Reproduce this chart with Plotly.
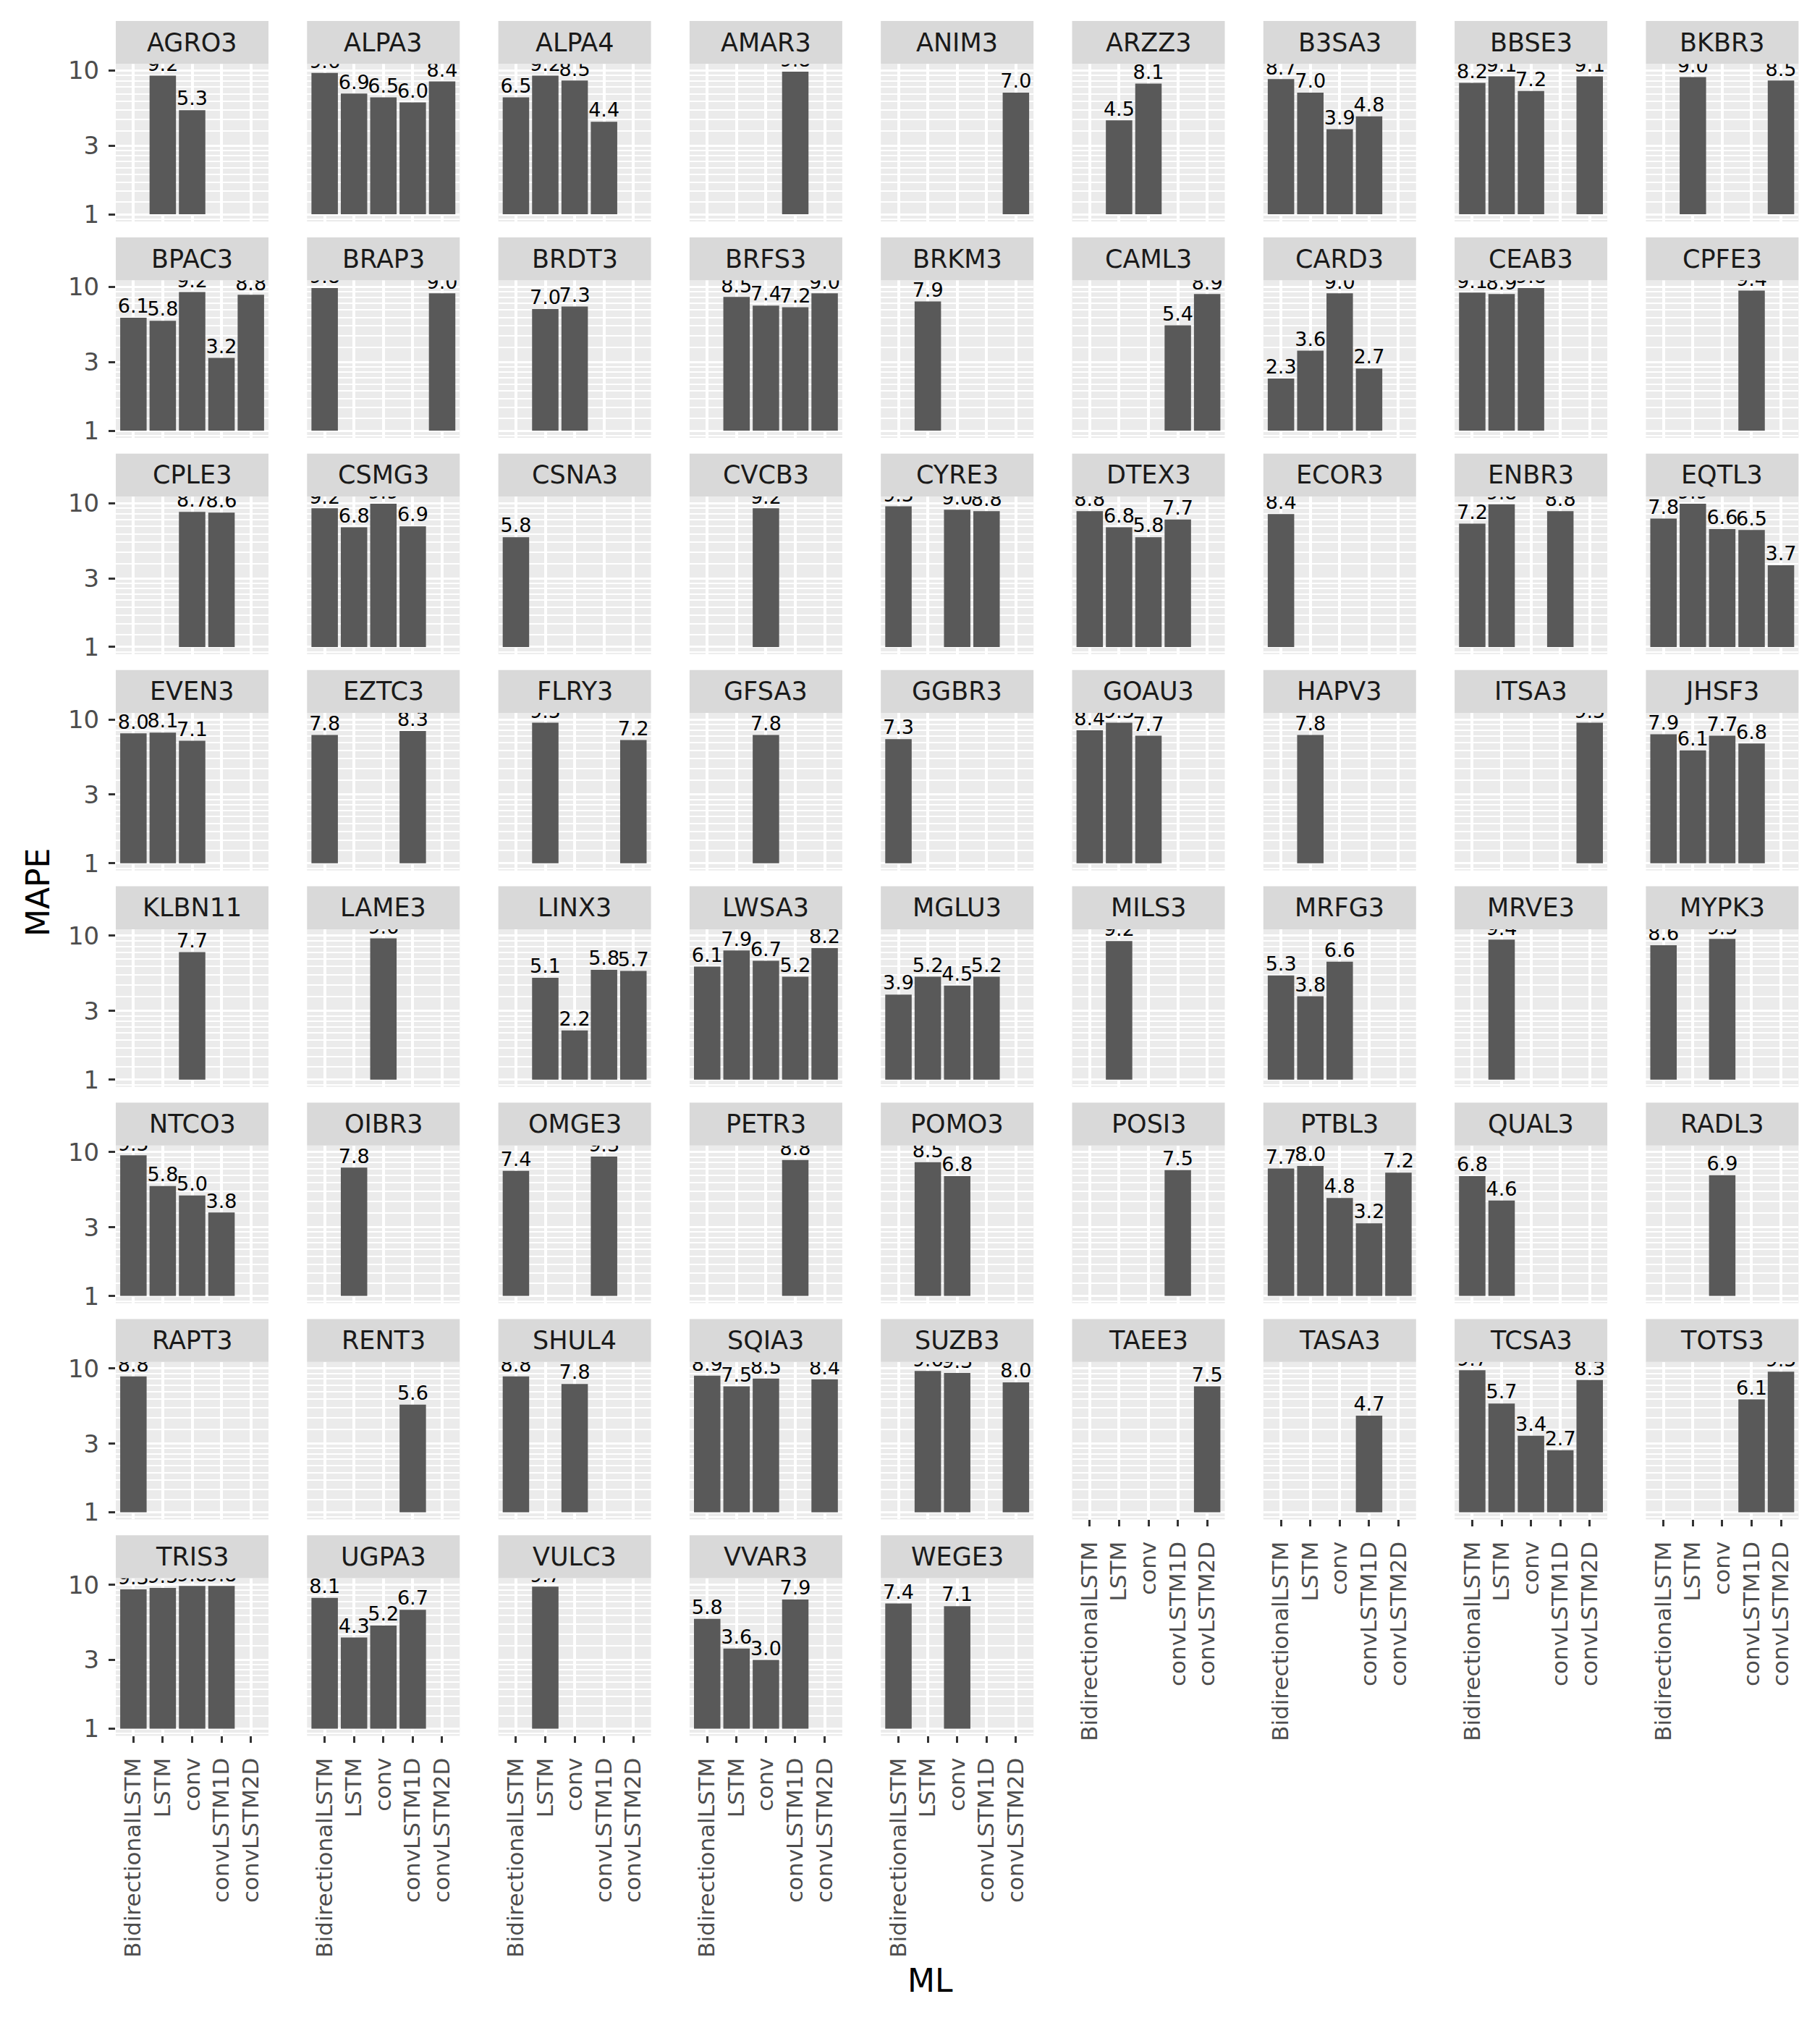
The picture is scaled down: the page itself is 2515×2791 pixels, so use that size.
import math
import plotly.graph_objects as go

# ---------------- data ----------------
models = ["BidirectionalLSTM", "LSTM", "conv", "convLSTM1D", "convLSTM2D"]

tickers = [
    "AGRO3", "ALPA3", "ALPA4", "AMAR3", "ANIM3", "ARZZ3", "B3SA3", "BBSE3", "BKBR3",
    "BPAC3", "BRAP3", "BRDT3", "BRFS3", "BRKM3", "CAML3", "CARD3", "CEAB3", "CPFE3",
    "CPLE3", "CSMG3", "CSNA3", "CVCB3", "CYRE3", "DTEX3", "ECOR3", "ENBR3", "EQTL3",
    "EVEN3", "EZTC3", "FLRY3", "GFSA3", "GGBR3", "GOAU3", "HAPV3", "ITSA3", "JHSF3",
    "KLBN11", "LAME3", "LINX3", "LWSA3", "MGLU3", "MILS3", "MRFG3", "MRVE3", "MYPK3",
    "NTCO3", "OIBR3", "OMGE3", "PETR3", "POMO3", "POSI3", "PTBL3", "QUAL3", "RADL3",
    "RAPT3", "RENT3", "SHUL4", "SQIA3", "SUZB3", "TAEE3", "TASA3", "TCSA3", "TOTS3",
    "TRIS3", "UGPA3", "VULC3", "VVAR3", "WEGE3",
]

N = None
bidirectional_lstm = [
    N, 9.6, 6.5, N, N, N, 8.7, 8.2, N,
    6.1, 9.8, N, N, N, N, 2.3, 9.1, N,
    N, 9.2, 5.8, N, 9.5, 8.8, 8.4, 7.2, 7.8,
    8.0, 7.8, N, N, 7.3, 8.4, N, N, 7.9,
    N, N, N, 6.1, 3.9, N, 5.3, N, 8.6,
    9.5, N, 7.4, N, N, N, 7.7, 6.8, N,
    8.8, N, 8.8, 8.9, N, N, N, 9.7, N,
    9.3, 8.1, N, 5.8, 7.4,
]
lstm = [
    9.2, 6.9, 9.2, N, N, 4.5, 7.0, 9.1, 9.0,
    5.8, N, 7.0, 8.5, 7.9, N, 3.6, 8.9, N,
    N, 6.8, N, N, N, 6.8, N, 9.8, 9.9,
    8.1, N, 9.5, N, N, 9.5, 7.8, N, 6.1,
    N, N, 5.1, 7.9, 5.2, 9.2, 3.8, 9.4, N,
    5.8, 7.8, N, N, 8.5, N, 8.0, 4.6, N,
    N, N, N, 7.5, 9.6, N, N, 5.7, N,
    9.5, 4.3, 9.7, 3.6, N,
]
conv = [
    5.3, 6.5, 8.5, N, N, 8.1, 3.9, 7.2, N,
    9.2, N, 7.3, 7.4, N, N, 9.0, 9.8, N,
    8.7, 9.9, N, 9.2, 9.0, 5.8, N, N, 6.6,
    7.1, N, N, 7.8, N, 7.7, N, N, 7.7,
    7.7, 9.6, 2.2, 6.7, 4.5, N, 6.6, N, 9.5,
    5.0, N, N, N, 6.8, N, 4.8, N, 6.9,
    N, N, 7.8, 8.5, 9.3, N, N, 3.4, N,
    9.8, 5.2, N, 3.0, 7.1,
]
conv_lstm1d = [
    N, 6.0, 4.4, 9.8, N, N, 4.8, N, N,
    3.2, N, N, 7.2, N, 5.4, 2.7, N, 9.4,
    8.6, 6.9, N, N, 8.8, 7.7, N, 8.8, 6.5,
    N, 8.3, N, N, N, N, N, N, 6.8,
    N, N, 5.8, 5.2, 5.2, N, N, N, N,
    3.8, N, 9.3, 8.8, N, 7.5, 3.2, N, N,
    N, 5.6, N, N, N, N, 4.7, 2.7, 6.1,
    9.8, 6.7, N, 7.9, N,
]
conv_lstm2d = [
    N, 8.4, N, N, 7.0, N, N, 9.1, 8.5,
    8.8, 9.0, N, 9.0, N, 8.9, N, N, N,
    N, N, N, N, N, N, N, N, 3.7,
    N, N, 7.2, N, N, N, N, 9.5, N,
    N, N, 5.7, 8.2, N, N, N, N, N,
    N, N, N, N, N, N, 7.2, N, N,
    N, N, N, 8.4, 8.0, 7.5, N, 8.3, 9.5,
    N, N, N, N, N,
]
series = [bidirectional_lstm, lstm, conv, conv_lstm1d, conv_lstm2d]

y_tick_vals = [1, 3, 10]
y_tick_text = ["1", "3", "10"]

# ---------------- layout geometry ----------------
W, H = 2515, 2791
NCOL = 9
PX0, PITCH_X, PW = 160.0, 264.3, 211.0
PT0, PITCH_Y, PH = 88.3, 298.9, 217.7
STRIP_H = 59.3
FONT = "DejaVu Sans"

all_vals = [v for s in series for v in s if v is not None]
ymax = math.log10(max(all_vals))
pad = 0.05 * ymax
yrange = [-pad, ymax + pad]

# minor grid: 8 evenly spaced lines between consecutive log breaks
ext = [0.3] + y_tick_vals + [30]
minor_vals = []
for a, b in zip(ext[:-1], ext[1:]):
    step = (b - a) / 9
    minor_vals += [a + k * step for k in range(1, 9)]

fig = go.Figure()
layout = {}
shapes = []
annotations = []
n_t = len(tickers)

for i, tk in enumerate(tickers):
    r, c = divmod(i, NCOL)
    n = i + 1
    sfx = "" if n == 1 else str(n)
    xa, ya = "x" + sfx, "y" + sfx
    vals = [s[i] for s in series]

    fig.add_trace(go.Bar(
        x=models,
        y=[(v - 1) if v is not None else None for v in vals],
        base=1,
        xaxis=xa, yaxis=ya,
        marker=dict(color="#595959", line=dict(width=0)),
        width=0.9, hoverinfo="skip", showlegend=False,
    ))
    fig.add_trace(go.Scatter(
        x=models, y=vals,
        text=[f"{v:.1f}" if v is not None else "" for v in vals],
        mode="text", textposition="top center",
        textfont=dict(family=FONT, size=27, color="black"),
        xaxis=xa, yaxis=ya, cliponaxis=True,
        hoverinfo="skip", showlegend=False,
    ))

    x0 = PX0 + c * PITCH_X
    top = PT0 + r * PITCH_Y
    bot = top + PH
    is_bottom = (i + NCOL >= n_t)
    is_left = (c == 0)

    layout["xaxis" + sfx] = dict(
        domain=[x0 / W, (x0 + PW) / W], anchor=ya,
        type="category", categoryorder="array", categoryarray=models,
        range=[-0.6, 4.6], automargin=False,
        showgrid=True, gridcolor="white", gridwidth=3.5,
        zeroline=False, showline=False,
        showticklabels=is_bottom, ticks="outside" if is_bottom else "",
        ticklen=9, tickwidth=2.5, tickcolor="#333333",
        tickangle=-90, ticklabelstandoff=8,
        tickfont=dict(family=FONT, size=31, color="#4D4D4D"),
        fixedrange=True,
    )
    layout["yaxis" + sfx] = dict(
        domain=[1 - bot / H, 1 - top / H], anchor=xa,
        type="log", range=yrange, automargin=False,
        tickmode="array", tickvals=y_tick_vals, ticktext=y_tick_text,
        showgrid=True, gridcolor="white", gridwidth=3.2,
        minor=dict(tickmode="array", tickvals=minor_vals, showgrid=True,
                   gridcolor="white", gridwidth=1.6, ticks=""),
        zeroline=False, showline=False,
        showticklabels=is_left, ticks="outside" if is_left else "",
        ticklen=9, tickwidth=2.5, tickcolor="#333333",
        ticklabelstandoff=6,
        tickfont=dict(family=FONT, size=34, color="#4D4D4D"),
        fixedrange=True,
    )

    shapes.append(dict(
        type="rect", xref="paper", yref="paper",
        x0=x0 / W, x1=(x0 + PW) / W,
        y0=1 - top / H, y1=1 - (top - STRIP_H) / H,
        fillcolor="#D9D9D9", line=dict(width=0), layer="above",
    ))
    annotations.append(dict(
        text=tk, xref="paper", yref="paper",
        x=(x0 + PW / 2) / W, y=1 - (top - STRIP_H / 2) / H,
        xanchor="center", yanchor="middle", showarrow=False,
        font=dict(family=FONT, size=35, color="#1A1A1A"),
    ))

annotations.append(dict(
    text="MAPE", xref="paper", yref="paper", x=52 / W, y=1 - 1233 / H,
    xanchor="center", yanchor="middle", textangle=-90, showarrow=False,
    font=dict(family=FONT, size=44, color="black"),
))
annotations.append(dict(
    text="ML", xref="paper", yref="paper", x=1285 / W, y=1 - 2736 / H,
    xanchor="center", yanchor="middle", showarrow=False,
    font=dict(family=FONT, size=44, color="black"),
))

fig.update_layout(
    width=W, height=H, autosize=False,
    margin=dict(l=0, r=0, t=0, b=0, pad=0, autoexpand=False),
    paper_bgcolor="white", plot_bgcolor="#EBEBEB",
    showlegend=False, barmode="overlay",
    shapes=shapes, annotations=annotations,
    font=dict(family=FONT),
    **layout,
)

fig.write_html(
    "out.html",
    config={"displayModeBar": False},
    post_script="document.body.style.margin='0';document.body.style.overflow='hidden';",
)
